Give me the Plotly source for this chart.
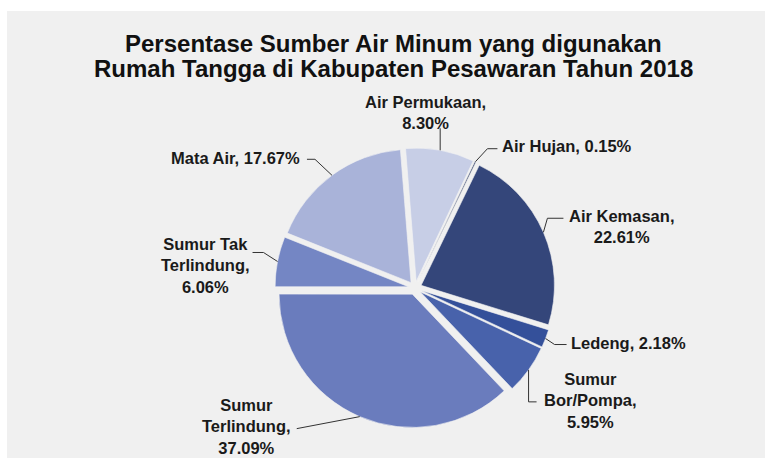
import math
import plotly.graph_objects as go

# ---- data ----
categories = ["Air Hujan", "Air Kemasan", "Ledeng", "Sumur Bor/Pompa",
              "Sumur Terlindung", "Sumur Tak Terlindung", "Mata Air", "Air Permukaan"]
values = [0.15, 22.61, 2.18, 5.95, 37.09, 6.06, 17.67, 8.30]
label_texts = ["Air Hujan, 0.15%", "Air Kemasan,<br>22.61%", "Ledeng, 2.18%",
               "Sumur<br>Bor/Pompa,<br>5.95%", "Sumur<br>Terlindung,<br>37.09%",
               "Sumur Tak<br>Terlindung,<br>6.06%", "Mata Air, 17.67%",
               "Air Permukaan,<br>8.30%"]
colors = ["#26355f", "#34467a", "#34509a", "#4862ab", "#6a7cbd", "#7486c4", "#a9b3d9", "#c7cee6"]
title_lines = ["Persentase Sumber Air Minum yang digunakan",
               "Rumah Tangga di Kabupaten Pesawaran Tahun 2018"]

# ---- layout / style (page pixel coordinates) ----
W, H = 765, 458
PIE_X = (275, 555)
PIE_Y = (148, 428)
PULL = 0.05
ROTATION = 25.3
FONT = "Liberation Sans, Arial, sans-serif"

label_style = [
    dict(frac=0.5, path=[(12, -13), (22, -13)], text=(25, -16), xanchor="left"),
    dict(frac=0.5, path=[(4, -14), (20, -14)], text=(78, -6), xanchor="center"),
    dict(frac=0.5, path=[(9, 6), (21, 6)], text=(23, 4), xanchor="left"),
    dict(frac=0.5, path=[(0, 32), (8, 32)], text=(62, 31), xanchor="center"),
    dict(frac=0.5, path=[(-63, 12)], text=(-113, 10), xanchor="center"),
    dict(frac=0.5, path=[(-14, -9), (-25, -9)], text=(-72, 4), xanchor="center"),
    dict(frac=0.5, path=[(-17, -16), (-25, -16)], text=(-30, -17), xanchor="right"),
    dict(frac=0.5, path=[(0, -22)], text=(-15, -38), xanchor="center"),
]

def px(x, y):
    """page pixel -> paper coordinates"""
    return x / W, 1 - y / H

fig = go.Figure()
dx0, dy1 = px(PIE_X[0], PIE_Y[0])
dx1, dy0 = px(PIE_X[1], PIE_Y[1])
fig.add_trace(go.Pie(
    labels=categories, values=values, sort=False, direction="clockwise",
    rotation=ROTATION, pull=[PULL] * len(values), textinfo="none",
    marker=dict(colors=colors, line=dict(color="#f3f3f3", width=0.6)),
    domain=dict(x=[dx0, dx1], y=[dy0, dy1]),
    showlegend=False, hoverinfo="label+percent",
))

cx = (PIE_X[0] + PIE_X[1]) / 2
cy = (PIE_Y[0] + PIE_Y[1]) / 2
r = min(PIE_X[1] - PIE_X[0], PIE_Y[1] - PIE_Y[0]) / 2 / (1 + PULL)
R = r * (1 + PULL)
total = sum(values)

shapes = [
    dict(type="rect", xref="paper", yref="paper", x0=0, x1=1, y0=px(0, 11)[1], y1=1,
         fillcolor="white", line=dict(width=0), layer="below"),
    dict(type="rect", xref="paper", yref="paper", x0=0, x1=px(7, 0)[0], y0=0, y1=1,
         fillcolor="white", line=dict(width=0), layer="below"),
]
annotations = []
cum = 0.0
for v, txt, st in zip(values, label_texts, label_style):
    a0 = ROTATION + 360 * cum / total
    a1 = ROTATION + 360 * (cum + v) / total
    cum += v
    ang = math.radians(a0 + (a1 - a0) * st["frac"])
    ax = cx + R * math.sin(ang)
    ay = cy - R * math.cos(ang)
    pts = [(ax, ay)] + [(ax + dx, ay + dy) for dx, dy in st["path"]]
    path = ""
    for i, (x, y) in enumerate(pts):
        pxx, pyy = px(x, y)
        path += ("M" if i == 0 else " L") + f"{pxx:.5f},{pyy:.5f}"
    shapes.append(dict(type="path", xref="paper", yref="paper", path=path,
                       line=dict(color="#333333", width=1)))
    tx, ty = px(ax + st["text"][0], ay + st["text"][1])
    annotations.append(dict(
        x=tx, y=ty, xref="paper", yref="paper", text=f"<b>{txt}</b>",
        showarrow=False, xanchor=st["xanchor"], yanchor="middle", align="center",
        font=dict(family=FONT, size=16.5, color="#1a1a1a"),
    ))

for line, yc in zip(title_lines, (43, 69)):
    tx, ty = px(394, yc)
    annotations.append(dict(
        x=tx, y=ty, xref="paper", yref="paper", text=f"<b>{line}</b>",
        showarrow=False, xanchor="center", yanchor="middle",
        font=dict(family=FONT, size=24, color="#111111"),
    ))

fig.update_layout(
    width=W, height=H, margin=dict(l=0, r=0, t=0, b=0),
    paper_bgcolor="#f0f0f0", plot_bgcolor="#f0f0f0",
    shapes=shapes, annotations=annotations,
)

fig.write_html("out.html", config={"displayModeBar": False},
               post_script="document.body.style.margin='0';document.body.style.overflow='hidden';")
